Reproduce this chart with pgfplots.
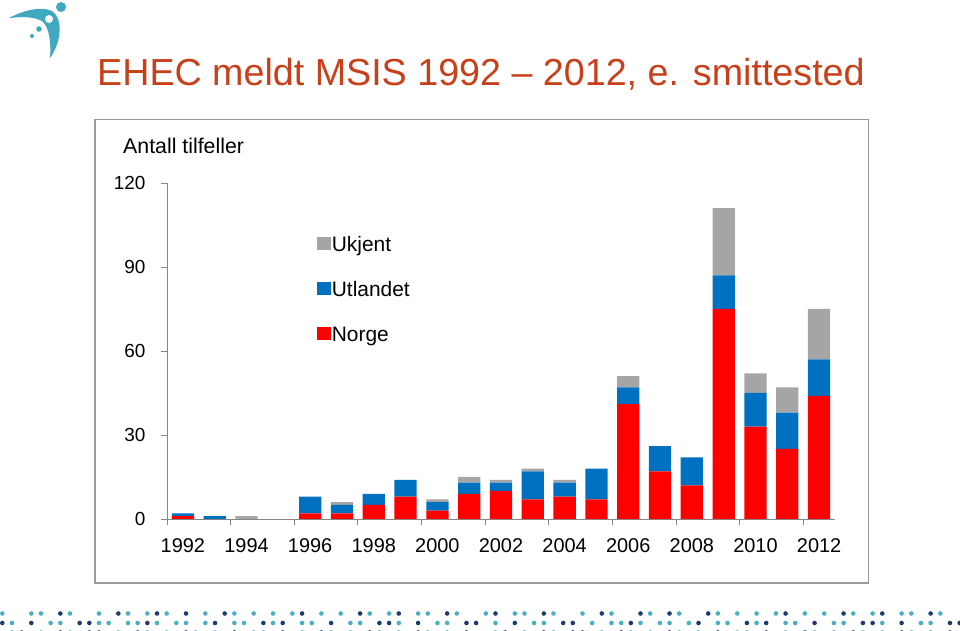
\documentclass[border=0pt]{standalone}
\usepackage{fontspec}
\setmainfont{Liberation Sans}
\usepackage{pgfplots}
\pgfplotsset{compat=1.18}
\usepackage{pgfplotstable}
\definecolor{norge}{HTML}{FF0000}
\definecolor{utl}{HTML}{0070C0}
\definecolor{ukj}{HTML}{A5A5A5}
\definecolor{titlec}{HTML}{C8401A}
\definecolor{axisgray}{HTML}{868686}
\definecolor{framegray}{HTML}{999999}
\definecolor{dotT}{HTML}{4BAFC2}
\definecolor{dotN}{HTML}{1F3B6E}
\definecolor{logoc}{HTML}{3FA9C0}

\pgfplotstableread{
year N U K
1992 1 1 0
1993 0 1 0
1994 0 0 1
1995 0 0 0
1996 2 6 0
1997 2 3 1
1998 5 4 0
1999 8 6 0
2000 3 3 1
2001 9 4 2
2002 10 3 1
2003 7 10 1
2004 8 5 1
2005 7 11 0
2006 41 6 4
2007 17 9 0
2008 12 10 0
2009 75 12 24
2010 33 12 7
2011 25 13 9
2012 44 13 18
}\data

\begin{document}
\begin{tikzpicture}
\useasboundingbox (0,0) rectangle (960bp,631bp);
\begin{scope}[x=1bp,y=-1bp,yshift=631bp]
  % title
  \node[anchor=base west, inner sep=0pt, text=titlec, font=\fontsize{37.8}{40}\selectfont] at (97,86) {EHEC meldt MSIS 1992 – 2012, e. smittested};
  % frame
  \draw[framegray, line width=1.6bp] (95,119.5) rectangle (868.5,583);
  % y label
  \node[anchor=base west, inner sep=0pt, font=\fontsize{21.4}{24}\selectfont] at (123,153.5) {Antall tilfeller};
  % logo
  \fill[logoc] (9,18) .. controls (24,10) and (42,6) .. (52,11)
     .. controls (62,17) and (63,40) .. (50,58)
     .. controls (51,44) and (50,28) .. (42,21)
     .. controls (32,16) and (20,17) .. (9,18) -- cycle;
  \fill[white] (49,19) circle (4);
  \fill[logoc] (61,7) circle (5);
  \fill[logoc] (39,29) circle (2.8);
  \fill[logoc] (32,36) circle (2);
  % dots
  \foreach \i/\c in {0/T,3/T,4/T,6/N,7/T,10/T,12/N,13/T,15/T,16/N,17/T,19/N,21/T,23/N,24/T,26/T,28/T,30/T,31/N,33/T,35/T,37/N,38/T,40/T,41/N,43/T,44/T,46/N,47/T,
     50/T,51/N,53/T,54/T,56/N,57/T,60/T,62/N,63/T,66/N,67/T,69/N,70/T,73/N,74/T,76/T,78/T,80/T,81/N,83/T,85/T,87/N,88/T,90/T,91/N,93/T,94/T,96/N,97/T}
     {\fill[dot\c] (2.3+9.67*\i,613.5) circle (2.3);}
  \foreach \i/\c in {0/N,1/T,3/N,5/T,6/T,8/N,9/N,10/T,11/T,13/T,14/T,15/N,16/T,18/T,19/T,21/T,22/N,24/T,25/T,27/N,28/T,29/N,31/T,32/T,34/N,36/T,37/T,39/N,40/N,41/T,43/N,45/T,46/T,48/N,49/N,
     51/T,53/N,55/T,56/T,58/N,59/N,61/T,63/T,64/T,65/N,66/T,68/T,69/T,71/T,72/N,74/T,75/T,77/N,78/T,79/N,81/T,82/T,84/N,86/T,87/T,89/N,90/N,91/T,93/N,95/T,96/T,98/N,99/N}
     {\fill[dot\c] (2.3+9.67*\i,623) circle (2.3);}
  \foreach \i/\c in {1/T,2/N,4/T,6/N,7/T,9/N,10/N,12/T,14/N,15/T,17/T,19/N,20/T,22/T,24/N,26/T,27/T,29/N,31/T,33/N,34/T,36/T,38/N,39/T,41/T,43/N,44/T,46/T,48/N,
     51/T,52/N,54/T,56/N,57/T,59/N,60/N,62/T,64/N,65/T,67/T,69/N,70/T,72/T,74/N,76/T,77/T,79/N,81/T,83/N,84/T,86/T,88/N,89/T,91/T,93/N,94/T,96/T,98/N}
     {\fill[dot\c] (2.3+9.67*\i,632.5) circle (2.3);}
\end{scope}
\begin{axis}[
  at={(167bp,112bp)}, anchor=south west,
  scale only axis, width=668bp, height=336bp,
  xmin=1991.5, xmax=2012.5, ymin=0, ymax=120,
  axis x line=bottom, axis y line=left,
  axis line style={axisgray, line width=0.9bp, -},
  ybar stacked, bar width=0.7,
  ytick={0,30,60,90,120},
  xtick={1991.5,1993.5,...,2011.5}, xticklabels={},
  extra x ticks={1992,1994,...,2012},
  extra x tick labels={1992,1994,1996,1998,2000,2002,2004,2006,2008,2010,2012},
  extra x tick style={major tick length=0pt},
  tick style={axisgray, line width=0.9bp},
  major tick length=6bp, tick align=outside,
  tick label style={font=\fontsize{19}{22}\selectfont},
  /pgf/number format/assume math mode=true,
  yticklabel style={xshift=-12bp},
  xticklabel style={yshift=-16bp, font=\fontsize{20}{22}\selectfont},
  reverse legend,
  legend cell align=left,
  legend style={at={(0.224,0.84)}, anchor=north west, draw=none, fill=none,
    font=\fontsize{21}{24}\selectfont, row sep=25bp, inner sep=0pt,
    nodes={inner sep=1bp, text height=14bp, text depth=4bp}},
  legend image code/.code={\fill[#1] (0bp,-3bp) rectangle (14bp,10bp);},
]
\addplot[fill=norge, draw=none] table[x=year, y=N] {\data};
\addplot[fill=utl, draw=none] table[x=year, y=U] {\data};
\addplot[fill=ukj, draw=none] table[x=year, y=K] {\data};
\legend{Norge, Utlandet, Ukjent}
\end{axis}
\end{tikzpicture}
\end{document}
